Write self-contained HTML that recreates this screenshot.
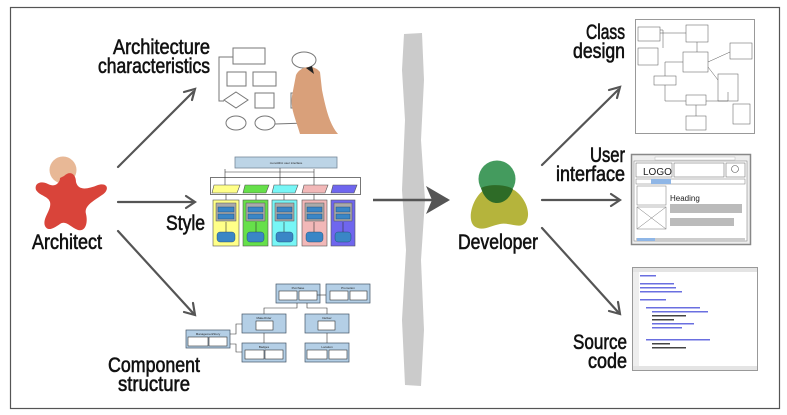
<!DOCTYPE html>
<html><head><meta charset="utf-8"><style>
html,body{margin:0;padding:0;background:#fff;width:787px;height:415px;overflow:hidden}
svg{display:block}
.t{font-family:"Liberation Sans Narrow","Liberation Sans",sans-serif;font-size:21px;fill:#111;stroke:#111;stroke-width:0.6}
.s{font-family:"Liberation Sans",sans-serif;font-size:3px;fill:#222}
</style></head><body>
<svg width="787" height="415" viewBox="0 0 787 415" xmlns="http://www.w3.org/2000/svg">
<rect x="10.5" y="7.5" width="769" height="401" fill="#fff" stroke="#555" stroke-width="1.2"/>

<text class="t" x="210" y="54" text-anchor="end" textLength="97" lengthAdjust="spacingAndGlyphs">Architecture</text>
<text class="t" x="210" y="73" text-anchor="end" textLength="112" lengthAdjust="spacingAndGlyphs">characteristics</text>
<text class="t" x="32" y="249" textLength="70" lengthAdjust="spacingAndGlyphs">Architect</text>
<text class="t" x="166" y="230" textLength="39" lengthAdjust="spacingAndGlyphs">Style</text>
<text class="t" x="108" y="372" textLength="92" lengthAdjust="spacingAndGlyphs">Component</text>
<text class="t" x="118" y="391" textLength="72" lengthAdjust="spacingAndGlyphs">structure</text>
<text class="t" x="625" y="39" text-anchor="end" textLength="39" lengthAdjust="spacingAndGlyphs">Class</text>
<text class="t" x="625" y="58" text-anchor="end" textLength="52" lengthAdjust="spacingAndGlyphs">design</text>
<text class="t" x="625" y="162" text-anchor="end" textLength="35" lengthAdjust="spacingAndGlyphs">User</text>
<text class="t" x="625" y="181" text-anchor="end" textLength="69" lengthAdjust="spacingAndGlyphs">interface</text>
<text class="t" x="627" y="349" text-anchor="end" textLength="54" lengthAdjust="spacingAndGlyphs">Source</text>
<text class="t" x="627" y="368" text-anchor="end" textLength="39" lengthAdjust="spacingAndGlyphs">code</text>
<text class="t" x="458" y="249" textLength="80" lengthAdjust="spacingAndGlyphs">Developer</text>

<circle cx="63" cy="170" r="13.5" fill="#e8b896"/>
<path d="M64 176 C70 170,76 174,76 182 C78 190,86 190,98 185 C108 182,110 190,102 195 C92 202,84 206,86 214 C88 222,86 232,78 230 C70 227,66 220,60 224 C54 228,48 232,45 226 C42 218,52 210,50 202 C48 196,40 196,36 190 C34 184,40 180,48 184 C56 188,60 182,60 178 Z" fill="#d9443a"/>

<path d="M484 190 C492 186,506 186,514 190 C524 196,532 212,526 222 C520 230,510 222,500 224 C490 226,482 232,474 226 C466 218,474 196,484 190 Z" fill="#b5b43c"/>
<circle cx="497" cy="179" r="18.5" fill="#3a9655" opacity="0.95"/>
<path d="M481 188 C488 184,506 184,513 189 C510 198,504 203,497 203 C490 203,484 198,481 188 Z" fill="#2e6b27"/>

<g stroke="#555" stroke-width="2.2" fill="none" stroke-linecap="round">
<line x1="118" y1="167" x2="193" y2="92"/><polyline points="184,92 195,89 192,100"/>
<line x1="118" y1="202" x2="193" y2="202"/><polyline points="186,196 195,202 186,208"/>
<line x1="118" y1="231" x2="193" y2="313"/><polyline points="193,303 195,315 184,312"/>
<line x1="542" y1="165" x2="618" y2="90"/><polyline points="609,90 620,87 617,98"/>
<line x1="542" y1="200" x2="618" y2="200"/><polyline points="611,194 620,200 611,206"/>
<line x1="542" y1="228" x2="618" y2="312"/><polyline points="618,302 620,314 609,311"/>
</g>

<path d="M404 34 L422 33 L424 80 L421 140 L425 200 L421 260 L424 330 L421 386 L405 385 L402 320 L406 250 L402 190 L405 120 L402 70 Z" fill="#cbcbcb"/>
<line x1="373" y1="200" x2="448" y2="200" stroke="#555" stroke-width="2.6"/>
<path d="M426 186 L450 200 L426 214 L432 200 Z" fill="#555"/>

<g stroke="#777" stroke-width="1" fill="#fff">
<rect x="233" y="48" width="32" height="16"/>
<rect x="227" y="72" width="19" height="14"/>
<rect x="253" y="72" width="23" height="14"/>
<path d="M236 92 L248 100 L236 108 L224 100 Z"/>
<rect x="255" y="93" width="19" height="15"/>
<ellipse cx="236" cy="123" rx="10" ry="7"/>
<ellipse cx="265" cy="123" rx="10" ry="7"/>
<ellipse cx="304" cy="60" rx="12" ry="8"/>
<polyline points="233,57 219,57 219,101 224,101" fill="none"/>
<polyline points="275,124 306,123 306,94" fill="none"/>
<rect x="291" y="93" width="30" height="15" fill="none"/>
</g>
<path d="M296 75 C300 66,314 64,320 72 L322 90 C326 110,330 125,338 134 L300 134 C296 120,290 108,292 96 Z" fill="#d9a07a"/>
<path d="M306 68 L312 66 L314 74 Z" fill="#222"/>

<rect x="235" y="157" width="102" height="11" fill="#bcd4e6" stroke="#789" stroke-width="0.8"/>
<text class="s" x="286" y="164" text-anchor="middle">monolithic user interface</text>
<rect x="210.5" y="177.5" width="150" height="17" fill="#fff" stroke="#777"/>
<g stroke="#555" stroke-width="0.6">
<path d="M214 185 L240 185 L237 193 L212 193Z" fill="#ffff88"/>
<path d="M245 185 L269 185 L266 193 L243 193Z" fill="#66e04a"/>
<path d="M274 185 L298 185 L295 193 L272 193Z" fill="#77f6f6"/>
<path d="M304 185 L328 185 L325 193 L302 193Z" fill="#f2b8b8"/>
<path d="M333 185 L357 185 L354 193 L331 193Z" fill="#6f66ee"/>
</g>
<g stroke="#555" stroke-width="0.6">
<rect x="213" y="200" width="26" height="46" fill="#ffff88"/>
<rect x="243" y="200" width="25" height="46" fill="#66e04a"/>
<rect x="272" y="200" width="25" height="46" fill="#77f6f6"/>
<rect x="302" y="200" width="25" height="46" fill="#f2b8b8"/>
<rect x="331" y="200" width="24" height="46" fill="#6f66ee"/>
</g>
<g fill="#aaa" stroke="#555" stroke-width="0.5">
<rect x="216" y="203" width="20" height="18"/><rect x="246" y="203" width="19" height="18"/><rect x="275" y="203" width="19" height="18"/><rect x="305" y="203" width="19" height="18"/><rect x="334" y="203" width="18" height="18"/>
</g>
<g fill="#3a86c6" stroke="#246" stroke-width="0.4">
<rect x="218" y="207" width="16" height="5"/><rect x="218" y="214" width="16" height="5"/>
<rect x="248" y="207" width="15" height="5"/><rect x="248" y="214" width="15" height="5"/>
<rect x="277" y="207" width="15" height="5"/><rect x="277" y="214" width="15" height="5"/>
<rect x="307" y="207" width="15" height="5"/><rect x="307" y="214" width="15" height="5"/>
<rect x="336" y="207" width="14" height="5"/><rect x="336" y="214" width="14" height="5"/>
<rect x="217" y="232" width="18" height="10" rx="3"/><rect x="247" y="232" width="17" height="10" rx="3"/><rect x="276" y="232" width="17" height="10" rx="3"/><rect x="306" y="232" width="17" height="10" rx="3"/><rect x="335" y="232" width="16" height="10" rx="3"/>
</g>
<g stroke="#333" stroke-width="0.6">
<line x1="225" y1="169" x2="225" y2="185"/><line x1="280" y1="168" x2="280" y2="185"/><line x1="314" y1="169" x2="314" y2="185"/><line x1="225" y1="172" x2="314" y2="172"/>
<line x1="226" y1="194" x2="226" y2="200"/><line x1="256" y1="194" x2="256" y2="200"/><line x1="284" y1="194" x2="284" y2="200"/><line x1="314" y1="194" x2="314" y2="200"/>
<line x1="226" y1="222" x2="226" y2="232"/><line x1="256" y1="222" x2="256" y2="232"/><line x1="284" y1="222" x2="284" y2="232"/><line x1="314" y1="222" x2="314" y2="232"/><line x1="343" y1="222" x2="343" y2="232"/>
</g>

<g stroke="#456" stroke-width="0.7" fill="#b4cfe6">
<rect x="276" y="284" width="44" height="19"/><rect x="326" y="284" width="44" height="19"/>
<rect x="242" y="314" width="44" height="19"/><rect x="305" y="314" width="44" height="19"/>
<rect x="186" y="330" width="44" height="18"/>
<rect x="242" y="343" width="44" height="19"/><rect x="305" y="343" width="44" height="19"/>
</g>
<g stroke="#333" stroke-width="0.6" fill="#fff">
<rect x="279" y="291" width="18" height="9"/><rect x="299" y="291" width="18" height="9"/>
<rect x="330" y="291" width="18" height="9"/><rect x="350" y="291" width="17" height="9"/>
<rect x="256" y="321" width="17" height="9"/><rect x="318" y="321" width="17" height="9"/>
<rect x="188" y="337" width="20" height="9"/><rect x="209" y="337" width="18" height="9"/>
<rect x="245" y="350" width="19" height="9"/><rect x="265" y="350" width="18" height="9"/>
<rect x="307" y="350" width="20" height="9"/><rect x="329" y="350" width="18" height="9"/>
</g>
<g class="s">
<text x="298" y="289" text-anchor="middle">Purchase</text><text x="348" y="289" text-anchor="middle">Promotion</text>
<text x="264" y="319" text-anchor="middle">MakeOrder</text><text x="327" y="319" text-anchor="middle">Deliver</text>
<text x="208" y="335" text-anchor="middle">ManagementStory</text>
<text x="264" y="348" text-anchor="middle">Badges</text><text x="327" y="348" text-anchor="middle">Location</text>
</g>
<g stroke="#333" stroke-width="0.6" fill="none">
<polyline points="297,303 297,308 264,308 264,314"/><polyline points="307,303 307,308 327,308 327,314"/>
<line x1="317" y1="295" x2="326" y2="295"/><line x1="264" y1="333" x2="264" y2="343"/><line x1="327" y1="333" x2="327" y2="343"/>
<polyline points="242,324 236,324 236,334 230,334"/><polyline points="242,352 236,352 236,344 230,344"/>
</g>

<rect x="635.5" y="19.5" width="119" height="114" fill="#fff" stroke="#999"/>
<g stroke="#555" stroke-width="0.5" fill="#fff">
<rect x="638" y="27" width="22" height="14"/><rect x="686" y="25" width="22" height="17"/><rect x="638" y="48" width="20" height="17"/>
<rect x="683" y="52" width="25" height="20"/><rect x="730" y="43" width="22" height="16"/><rect x="654" y="76" width="22" height="9"/>
<rect x="718" y="74" width="20" height="27"/><rect x="686" y="95" width="20" height="10"/><rect x="686" y="116" width="20" height="14"/><rect x="733" y="104" width="17" height="20"/>
</g>
<g stroke="#555" stroke-width="0.5" fill="none">
<polyline points="660,33 686,33"/><polyline points="697,42 697,52"/><polyline points="683,62 665,62 665,76"/><polyline points="708,62 730,52"/>
<polyline points="708,67 718,80"/><polyline points="665,85 665,101 686,101"/><polyline points="706,101 728,101 728,92"/><polyline points="696,105 696,116"/><polyline points="660,30 663,30 663,48"/>
</g>

<rect x="631.5" y="154.5" width="119" height="90" fill="#eee" stroke="#888" stroke-width="1.5"/>
<rect x="634" y="161" width="113" height="80" fill="#fff" stroke="#888" stroke-width="0.6"/>
<rect x="655" y="157" width="80" height="3" fill="#fff" stroke="#aaa" stroke-width="0.4"/>
<rect x="636" y="163" width="36" height="14" fill="#fff" stroke="#777" stroke-width="0.6"/>
<text x="643" y="175" font-family="Liberation Sans,sans-serif" font-size="10" fill="#222">LOGO</text>
<rect x="674" y="163" width="50" height="14" fill="#fff" stroke="#777" stroke-width="0.6"/>
<rect x="726" y="163" width="19" height="14" fill="#fff" stroke="#777" stroke-width="0.6"/>
<circle cx="735" cy="169" r="3.5" fill="none" stroke="#555" stroke-width="0.6"/>
<rect x="636" y="179" width="109" height="5" fill="#fff" stroke="#777" stroke-width="0.5"/>
<rect x="651" y="179" width="20" height="5" fill="#8fb6e6"/>
<rect x="637" y="186" width="29" height="19" fill="#fff" stroke="#777" stroke-width="0.5"/>
<rect x="637" y="207" width="29" height="22" fill="#fff" stroke="#777" stroke-width="0.5"/>
<path d="M637 207 L666 229 M666 207 L637 229" stroke="#777" stroke-width="0.5"/>
<text x="670" y="201" font-family="Liberation Sans,sans-serif" font-size="8" fill="#222">Heading</text>
<g fill="#bbb"><rect x="670" y="204" width="72" height="9"/><rect x="670" y="218" width="64" height="8"/></g>
<rect x="636" y="238" width="109" height="3" fill="#ccc"/><rect x="637" y="238" width="18" height="3" fill="#8fb6e6"/>

<rect x="632.5" y="267.5" width="125" height="103" fill="#fff" stroke="#999"/>
<rect x="633" y="268" width="124" height="4" fill="#e4e4e4"/>
<rect x="633" y="272" width="6" height="95" fill="#eee"/>
<rect x="633" y="366" width="124" height="4" fill="#e4e4e4"/>
<g fill="#6a6fe0">
<rect x="640" y="275" width="16" height="1.5"/><rect x="640" y="283" width="34" height="1.5"/><rect x="640" y="287" width="36" height="1.5"/><rect x="640" y="291" width="42" height="1.5"/>
<rect x="640" y="299" width="26" height="1.5"/><rect x="646" y="307" width="54" height="1.5"/><rect x="652" y="311" width="56" height="1.5"/>
<rect x="652" y="315" width="34" height="1.5" fill="#444"/><rect x="652" y="319" width="22" height="1.5" fill="#444"/><rect x="652" y="323" width="42" height="1.5"/><rect x="652" y="327" width="30" height="1.5"/>
<rect x="646" y="339" width="64" height="1.5"/><rect x="652" y="343" width="18" height="1.5" fill="#444"/><rect x="652" y="347" width="34" height="1.5" fill="#444"/>
</g>
</svg>
</body></html>
